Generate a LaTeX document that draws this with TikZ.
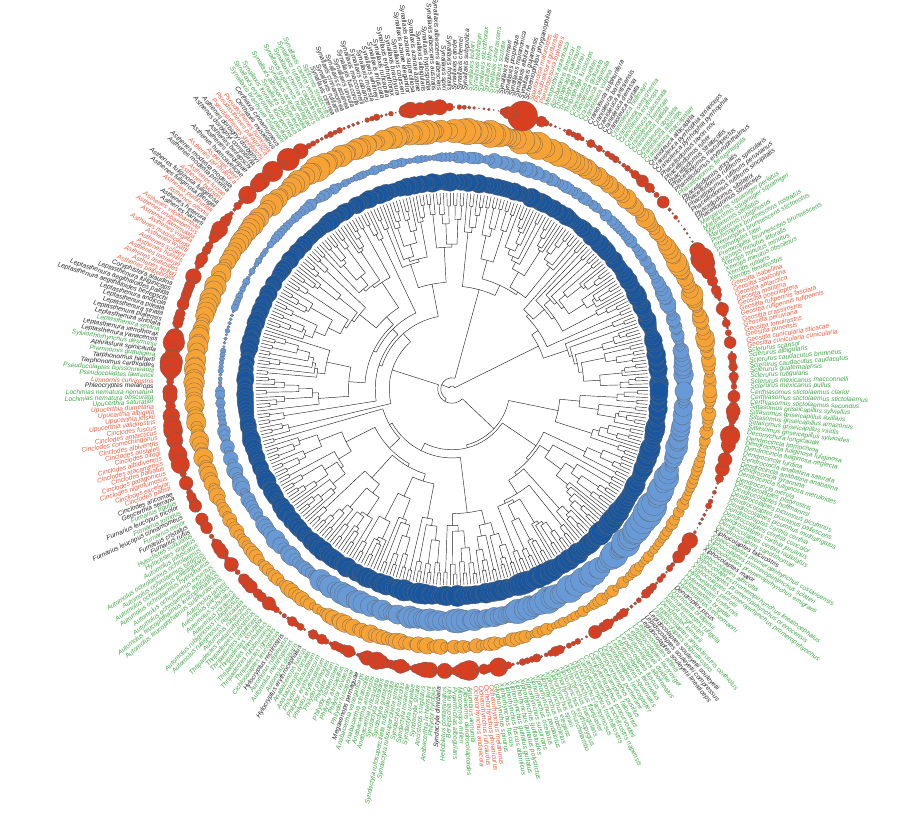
\documentclass[tikz,border=0pt]{standalone}
\usepackage{fontspec}
\setmainfont{Liberation Sans}
\usetikzlibrary{calc}

\definecolor{tipg}{RGB}{62,166,70}
\definecolor{tipr}{RGB}{238,92,62}
\definecolor{tipk}{RGB}{35,35,35}
\definecolor{ringdark}{RGB}{24,86,160}
\definecolor{ringlight}{RGB}{104,154,216}
\definecolor{ringorange}{RGB}{247,162,52}
\definecolor{ringred}{RGB}{216,62,32}

\def\rtip{196}
\def\rdepth{190}
\def\rlab{298}
\def\angoff{0.5}

% ring sizes per 10 degree bin
\def\darkarr{{8,8,8,8,8,8,8,8,8,8,7.5,7.5,7.5,7.5,7.5,7.5,7.5,7.5,8,8,8,8,8.5,8.5,8.5,9,9,9,9.5,9.5,9.5,9.5,9.5,9,8.5,8}}
\def\lightarr{{8,6,7,5,5,5,6,7,5,4,4,4,5,4,3,3,2,2.5,4,6,7,8,8.5,9,9,9,10,10,10,11,11,12,12,11,9.5,8}}
\def\orangearr{{6,8,9,8,8,9,10,11,11,10,9,10,11,10,9,9,9,9,8,8,7,7,6,6,7,9,7,6,6,5,5,5,5,5,5,6}}
\def\redarr{{4,4,7,1.5,4,2.5,2.5,5,1.5,5,2,2.5,8,6,5,5,6,7,6,6,4,5,5,3,4,6,5,6,3,3,6,3,5,2,5,6}}

\def\tiplist{g/Sclerurus mexicanus pullus,g/Sclerurus mexicanus macconnelli,g/Sclerurus rufigularis,g/Sclerurus guatemalensis,g/Sclerurus caudacutus caudacutus,g/Sclerurus caudacutus brunneus,g/Sclerurus albigularis,g/Sclerurus scansor,
r/Geositta cunicularia cunicularia,r/Geositta cunicularia titicacae,r/Geositta punensis,r/Geositta tenuirostris,r/Geositta peruviana,r/Geositta crassirostris,r/Geositta rufipennis rufipennis,r/Geositta rufipennis fasciata,r/Geositta poeciloptera,r/Geositta maritima,r/Geositta antarctica,r/Geositta saxicolina,r/Geositta isabellina,
g/Xenops tenuirostris,g/Xenops rutilans,g/Xenops minutus obsoletus,g/Xenops minutus minutus,g/Xenops minutus littoralis,g/Premnoplex brunnescens brunnescens,g/Premnoplex tatei,g/Premnoplex brunnescens stictonotus,g/Premnoplex brunnescens rostratus,g/Margarornis rubiginosus,g/Margarornis stellatus,g/Margarornis squamiger squamiger,g/Margarornis squamiger perlatus,
k/Phacellodomus striaticeps,k/Phacellodomus sibilatrix,k/Phacellodomus rufifrons sincipitalis,k/Phacellodomus rufifrons peruvianus,k/Phacellodomus rufifrons specularis,k/Phacellodomus dorsalis,g/Phacellodomus ferrugineigula,k/Phacellodomus erythrophthalmus,k/Phacellodomus maculipectus,k/Phacellodomus striaticollis,k/Phacellodomus ruber,k/Phacellodomus taxon nov,
k/Cranioleuca pyrrhophia pyrrhophia,k/Cranioleuca pyrrhophia striaticeps,k/Cranioleuca albicapilla,g/Cranioleuca marcapatae,g/Cranioleuca albiceps,g/Cranioleuca obsoleta,g/Cranioleuca pallida,g/Cranioleuca henricae,g/Cranioleuca subcristata,g/Cranioleuca erythrops,g/Cranioleuca semicinerea,g/Cranioleuca hellmayri,k/Cranioleuca curtata,k/Cranioleuca demissa,k/Cranioleuca antisiensis,k/Cranioleuca baroni,k/Cranioleuca sulphurifera,g/Cranioleuca vulpina,g/Cranioleuca vulpecula,g/Cranioleuca gutturata,g/Cranioleuca muelleri,g/Thripophaga fusciceps,g/Thripophaga cherriei,g/Thripophaga macroura,g/Acrobatornis fonsecai,g/Metopothrix aurantiaca,
r/Pseudoseisura lophotes,r/Pseudoseisura gutturalis,r/Spartonoica maluroides,
k/Schoeniophylax phryganophilus,k/Synallaxis gujanensis,k/Synallaxis albilora,k/Synallaxis maranonica,k/Synallaxis propinqua,k/Synallaxis zimmeri,
g/Synallaxis scutata,g/Synallaxis cinerascens,g/Synallaxis tithys,g/Synallaxis stictothorax,g/Synallaxis hellmayri,g/Synallaxis kollari,
k/Synallaxis subpudica,k/Synallaxis cherriei,k/Synallaxis candei,k/Synallaxis frontalis,k/Synallaxis spixi,k/Synallaxis albescens albescens,k/Synallaxis albescens australis,k/Synallaxis hypospodia,k/Synallaxis albigularis,k/Synallaxis azarae azarae,k/Synallaxis azarae superciliosa,k/Synallaxis azarae elegantior,k/Synallaxis courseni,k/Synallaxis brachyura,k/Synallaxis erythrothorax,k/Synallaxis ruficapilla,k/Synallaxis infuscata,k/Synallaxis whitneyi,k/Synallaxis moesta,k/Synallaxis cabanisi,k/Synallaxis macconnelli,k/Synallaxis fuscorufa,k/Synallaxis unirufa,k/Synallaxis castanea,k/Synallaxis cinnamomea,k/Synallaxis rutilans,k/Synallaxis cinerea,
g/Siptornis striaticollis,g/Synallaxis candei venezuelana,g/Synallaxis rutilans caquetensis,g/Synallaxis cherriei napoensis,g/Synallaxis gujanensis huallagae,g/Synallaxis azarae media,g/Synallaxis albescens hypoleuca,g/Synallaxis spixi notius,g/Synallaxis frontalis fuscipennis,g/Synallaxis erythrothorax pacifica,g/Synallaxis brachyura chapmani,
k/Certhiaxis cinnamomeus,k/Certhiaxis mustelinus,
r/Pseudasthenes humicola,r/Pseudasthenes patagonica,r/Pseudasthenes steinbachi,
k/Asthenes dorbignyi dorbignyi,k/Asthenes dorbignyi consobrina,k/Asthenes berlepschi,k/Asthenes arequipae,k/Asthenes huancavelicae,r/Asthenes baeri,r/Asthenes pyrrholeuca,k/Asthenes modesta modesta,k/Asthenes modesta proxima,r/Asthenes luizae,r/Asthenes hudsoni,k/Asthenes fuliginosa fuliginosa,k/Asthenes fuliginosa plengei,r/Asthenes pudibunda,r/Asthenes ottonis,k/Asthenes heterura,k/Asthenes harterti,r/Asthenes vilcabambae,r/Asthenes urubambensis,r/Asthenes flammulata,r/Asthenes virgata,r/Asthenes maculicauda,r/Asthenes wyatti,r/Asthenes sclateri,r/Asthenes humilis,r/Asthenes moreirae,r/Asthenes anthoides,r/Asthenes helleri,r/Asthenes palpebralis,
k/Coryphistera alaudina,k/Leptasthenura fuliginiceps,k/Leptasthenura aegithaloides pallida,k/Leptasthenura aegithaloides berlepschi,k/Leptasthenura andicola,k/Leptasthenura pileata,k/Leptasthenura striata,k/Leptasthenura platensis,k/Leptasthenura striolata,g/Leptasthenura setaria,k/Leptasthenura xenothorax,k/Leptasthenura yanacensis,g/Sylviorthorhynchus desmursii,k/Aphrastura spinicauda,g/Premnornis guttuligera,k/Tarphonomus harterti,k/Tarphonomus certhioides,g/Pseudocolaptes boissonneautii,g/Pseudocolaptes lawrencii,r/Limnornis curvirostris,k/Phleocryptes melanops,
g/Lochmias nematura nematura,g/Lochmias nematura obscurata,g/Upucerthia saturatior,r/Upucerthia dumetaria,r/Upucerthia albigula,r/Upucerthia jelskii,r/Upucerthia validirostris,r/Cinclodes fuscus,r/Cinclodes antarcticus,r/Cinclodes comechingonus,r/Cinclodes albiventris,r/Cinclodes oustaleti,r/Cinclodes olrogi,r/Cinclodes albidiventris,r/Cinclodes atacamensis,r/Cinclodes palliatus,r/Cinclodes patagonicus,r/Cinclodes nigrofumosus,r/Cinclodes excelsior,r/Cinclodes pabsti,k/Cinclodes aricomae,
k/Geocerthia serrana,g/Furnarius figulus,k/Furnarius leucopus tricolor,g/Furnarius torridus,k/Furnarius leucopus cinnamomeus,g/Furnarius minor,k/Furnarius cristatus,k/Furnarius rufus,
g/Hyloctistes subulatus,g/Hyloctistes virgatus,g/Automolus infuscatus,g/Automolus ochrolaemus ochrolaemus,g/Automolus ochrolaemus turdinus,g/Automolus ochrolaemus pallidigularis,g/Automolus ochrolaemus hypophaeus,g/Automolus ochrolaemus exsertus,g/Automolus ochrolaemus auricularis,g/Automolus leucophthalmus leucophthalmus,g/Automolus leucophthalmus sulphurascens,g/Automolus lammi,g/Automolus paraensis,g/Automolus subulatus,g/Automolus roraimae,g/Automolus rubiginosus rubiginosus,g/Automolus rubiginosus nigricauda,g/Automolus rufipectus,g/Thripadectes melanorhynchus,g/Thripadectes holostictus,g/Thripadectes virgaticeps,g/Thripadectes scrutator,g/Thripadectes flammulatus,g/Thripadectes rufobrunneus,g/Thripadectes ignobilis,g/Cichlocolaptes leucophrus,
k/Hylocryptus rectirostris,g/Automolus rufipileatus,g/Automolus melanopezus,g/Automolus dorsalis,k/Hylocryptus erythrocephalus,
g/Anabazenops fuscus,g/Anabazenops dorsalis,g/Philydor ruficaudatum,g/Philydor erythrocercum,g/Philydor erythropterum,g/Philydor pyrrhodes,g/Philydor rufum,g/Philydor lichtensteini,g/Philydor atricapillus,g/Philydor novaesi,g/Philydor fuscipenne,
k/Megaxenops parnaguae,
g/Anabacerthia variegaticeps,g/Anabacerthia striaticollis,g/Anabacerthia amaurotis,g/Anabacerthia ruficaudata,g/Syndactyla subalaris,g/Syndactyla guttulata,g/Syndactyla rufosuperciliata rufosuperciliata,g/Syndactyla rufosuperciliata similis,g/Syndactyla ruficollis,g/Syndactyla roraimae,g/Syndactyla ucayalae,g/Syndactyla striata,g/Ancistrops strigilatus,g/Anabacerthia lichtensteini,g/Philydor hylobius,
k/Syndactyla dimidiata,
g/Heliobletus contaminatus,g/Berlepschia rikeri,g/Pygarrhichas albogularis,g/Microxenops milleri,g/Clibanornis dendrocolaptoides,g/Anumbius annumbi,
r/Ochetorhynchus andaecola,r/Ochetorhynchus ruficaudus,r/Ochetorhynchus phoenicurus,r/Ochetorhynchus melanurus,
g/Glyphorynchus spirurus,g/Xiphorhynchus fuscus,g/Xiphorhynchus fuscus atlanticus,g/Xiphorhynchus guttatus guttatus,g/Xiphorhynchus guttatus polystictus,g/Xiphorhynchus guttatoides,g/Xiphorhynchus susurrans,g/Xiphorhynchus ocellatus,g/Xiphorhynchus pardalotus,g/Xiphorhynchus obsoletus,g/Xiphorhynchus elegans,g/Xiphorhynchus spixii,g/Xiphorhynchus chunchotambo,g/Xiphorhynchus erythropygius,g/Xiphorhynchus triangularis,g/Xiphorhynchus flavigaster,g/Xiphorhynchus lachrymosus,g/Campylorhamphus trochilirostris,g/Campylorhamphus trochilirostris napensis,g/Campylorhamphus procurvoides,g/Campylorhamphus falcularius,g/Campylorhamphus pusillus,g/Drymotoxeres pucheranii,g/Lepidocolaptes leucogaster,g/Lepidocolaptes squamatus,g/Lepidocolaptes falcinellus,g/Lepidocolaptes fuscus,g/Lepidocolaptes albolineatus,g/Lepidocolaptes duidae,g/Lepidocolaptes lacrymiger,g/Lepidocolaptes affinis,
k/Lepidocolaptes souleyetii lineaticeps,k/Lepidocolaptes souleyetii compressus,k/Lepidocolaptes souleyetii souleyetii,
g/Lepidocolaptes angustirostris,g/Lepidocolaptes angustirostris certhiolus,g/Dendroplex kienerii,g/Nasica longirostris,g/Dendrexetastes rufigula,g/Drymornis bridgesii,
k/Dendroplex picus,
g/Hylexetastes stresemanni,g/Hylexetastes brigidai,g/Hylexetastes uniformis,g/Hylexetastes perrotii,g/Xiphocolaptes promeropirhynchus promeropirhynchus,g/Xiphocolaptes promeropirhynchus orenocensis,g/Xiphocolaptes promeropirhynchus lineatocephalus,g/Xiphocolaptes albicollis,
k/Xiphocolaptes major,
g/Xiphocolaptes promeropirhynchus emigrans,g/Xiphocolaptes promeropirhynchus sclateri,g/Xiphocolaptes promeropirhynchus costaricensis,
k/Xiphocolaptes falcirostris,
g/Dendrocolaptes sanctithomae,g/Dendrocolaptes certhia radiolatus,g/Dendrocolaptes certhia juruanus,g/Dendrocolaptes certhia concolor,g/Dendrocolaptes certhia certhia,g/Dendrocolaptes picumnus multistrigatus,g/Dendrocolaptes picumnus pallescens,g/Dendrocolaptes picumnus picumnus,g/Dendrocolaptes hoffmannsi,g/Dendrocolaptes platyrostris,g/Dendrocincla merula,g/Dendrocincla fuliginosa meruloides,g/Dendrocincla tyrannina,g/Dendrocincla anabatina anabatina,g/Dendrocincla anabatina saturata,g/Dendrocincla turdina,g/Dendrocincla fuliginosa neglecta,g/Dendrocincla fuliginosa fuliginosa,g/Dendrocincla homochroa,g/Deconychura longicauda,g/Sittasomus griseicapillus sylvioides,g/Sittasomus griseicapillus viridis,g/Sittasomus griseicapillus amazonus,g/Sittasomus griseicapillus axillaris,g/Sittasomus griseicapillus sylviellus,g/Certhiasomus stictolaemus secundus,g/Certhiasomus stictolaemus stictolaemus,g/Certhiasomus stictolaemus clarior}

\newcommand\growclade[3]{\edef\gcargs{{#1}{#2}{#3}}\expandafter\growcladeX\gcargs}
\newcommand\growcladeX[3]{%
  \ifnum#1=#2\relax
    \pgfmathsetmacro\tmpang{\angoff+#1*\angstep}%
    \xdef\retang{\tmpang}\xdef\retrad{\rtip}%
  \else
    \begingroup
    \pgfmathsetmacro\nsize{#2-#1+1}%
    \pgfmathsetmacro\myrad{min(\rtip-2,max(#3+3,\rtip-\rdepth*(ln(\nsize)/ln(\ntips))^1.3*(0.85+0.3*rnd)))}%
    \pgfmathtruncatemacro\ksplit{#1+floor(rnd*(#2-#1))}%
    \pgfmathtruncatemacro\ksplitb{\ksplit+1}%
    \growclade{#1}{\ksplit}{\myrad}%
    \let\angA\retang\let\radA\retrad
    \growclade{\ksplitb}{#2}{\myrad}%
    \let\angB\retang\let\radB\retrad
    \draw[branch] (\angA:\radA pt) -- (\angA:\myrad pt)
      arc[start angle=\angA,end angle=\angB,radius=\myrad pt] -- (\angB:\radB pt);
    \pgfmathsetmacro\angM{(\angA+\angB)/2}%
    \xdef\retang{\angM}\xdef\retrad{\myrad}%
    \endgroup
  \fi}

\begin{document}
\begin{tikzpicture}[line join=round,line cap=round,
  branch/.style={line width=0.45pt,black!85},
  ringdot/.style={draw=black!60,line width=0.25pt},
  tiplab/.style={font=\fontsize{6.6}{7}\selectfont\itshape,inner sep=0.3pt}]
\useasboundingbox (-452pt,-444pt) rectangle (448pt,389pt);
\pgfmathsetseed{7}
\foreach \c/\n [count=\k] in \tiplist {\xdef\ntips{\k}}
\pgfmathsetmacro\angstep{360/\ntips}
\pgfmathtruncatemacro\nlast{\ntips-1}

% tree
\growclade{0}{\nlast}{0}

% rings
\foreach \k in {0,...,\nlast}{
  \pgfmathsetmacro\a{\angoff+\k*\angstep}
  \pgfmathtruncatemacro\bin{min(35,floor(\a/10))}
  \pgfmathsetmacro\sz{\darkarr[\bin]*(0.8+0.4*rnd)}
  \path[ringdot,fill=ringdark] (\a:207pt) circle[radius=\sz pt];
}
\foreach \k in {0,...,\nlast}{
  \pgfmathsetmacro\a{\angoff+\k*\angstep}
  \pgfmathtruncatemacro\bin{min(35,floor(\a/10))}
  \pgfmathsetmacro\sz{\lightarr[\bin]*(0.6+0.65*rnd)}
  \path[ringdot,fill=ringlight] (\a:232pt) circle[radius=\sz pt];
}
\foreach \k in {0,...,\nlast}{
  \pgfmathsetmacro\a{\angoff+\k*\angstep}
  \pgfmathtruncatemacro\bin{min(35,floor(\a/10))}
  \pgfmathsetmacro\sz{\orangearr[\bin]*(0.65+0.6*rnd)}
  \path[ringdot,fill=ringorange] (\a:258pt) circle[radius=\sz pt];
}
\foreach \k in {0,...,\nlast}{
  \pgfmathsetmacro\a{\angoff+\k*\angstep}
  \pgfmathtruncatemacro\bin{min(35,floor(\a/10))}
  \pgfmathsetmacro\sz{\redarr[\bin]*(0.3+1.4*rnd^1.5)}
  \ifnum\k=75 \def\sz{15}\fi
  \path[ringdot,fill=ringred] (\a:282pt) circle[radius=\sz pt];
}

% tip labels
\foreach \c/\n [count=\k from 0] in \tiplist {
  \pgfmathsetmacro\a{\angoff+\k*\angstep}
  \pgfmathtruncatemacro\lft{(\a>90)&&(\a<270)}
  \ifnum\lft=1
    \pgfmathsetmacro\rot{\a-180}
    \node[tiplab,text=tip\c,anchor=east,rotate=\rot] (tip\k) at (\a:\rlab pt) {\n};
  \else
    \node[tiplab,text=tip\c,anchor=west,rotate=\a] (tip\k) at (\a:\rlab pt) {\n};
  \fi
}
\end{tikzpicture}
\end{document}
